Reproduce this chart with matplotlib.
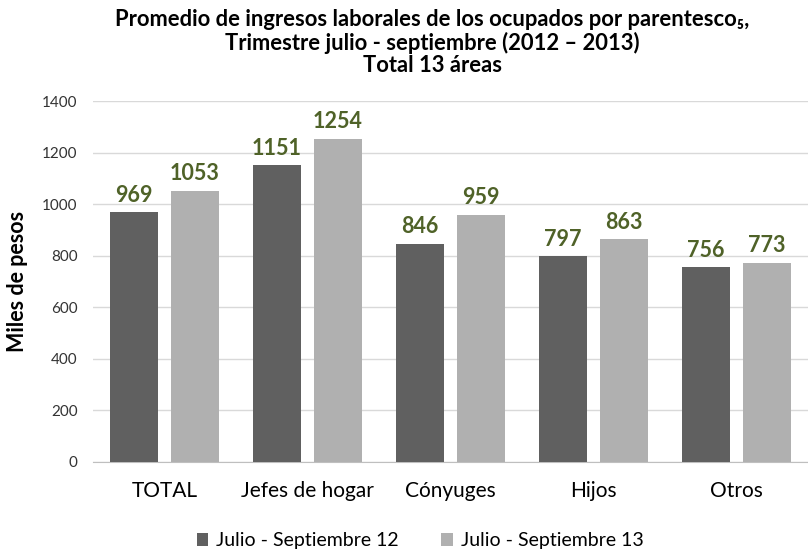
import matplotlib.pyplot as plt
import numpy as np

plt.rcParams['font.family'] = ['Lato', 'DejaVu Sans']

categories = ["TOTAL", "Jefes de hogar", "Cónyuges", "Hijos", "Otros"]
jul_sep_12 = [969, 1151, 846, 797, 756]
jul_sep_13 = [1053, 1254, 959, 863, 773]
series_names = ["Julio - Septiembre 12", "Julio - Septiembre 13"]
yticks = [0, 200, 400, 600, 800, 1000, 1200, 1400]

dark = "#606060"
light = "#b0b0b0"
label_color = "#4f6228"

fig = plt.figure(figsize=(8.08, 5.53), dpi=100)
ax = fig.add_axes([0.115, 0.165, 0.885, 0.652])

x = np.arange(len(categories))
w = 0.336
off = 0.213
b1 = ax.bar(x - off, jul_sep_12, w, color=dark, label=series_names[0], zorder=3)
b2 = ax.bar(x + off, jul_sep_13, w, color=light, label=series_names[1], zorder=3)

for bars in (b1, b2):
    for rect in bars:
        h = rect.get_height()
        ax.text(rect.get_x() + rect.get_width() / 2, h + 25, f"{h:.0f}",
                ha="center", va="bottom", fontsize=15.5, fontweight="bold",
                color=label_color)

ax.set_xlim(-0.5, len(categories) - 0.5)
ax.set_ylim(0, 1400)
ax.set_yticks(yticks)
ax.set_xticks(x)
ax.set_xticklabels(categories, fontsize=15)
ax.tick_params(axis="y", labelsize=11, length=0, pad=11, colors="#333333")
ax.tick_params(axis="x", length=0, pad=14)
ax.yaxis.grid(True, color="#d9d9d9", linewidth=1, zorder=0)
for s in ("top", "right", "left"):
    ax.spines[s].set_visible(False)
ax.spines["bottom"].set_color("#bfbfbf")

ax.set_ylabel("Miles de pesos", fontsize=15.5, fontweight="bold", labelpad=10)

title_lines = ["Promedio de ingresos laborales de los ocupados por parentesco\u2085,",
               "Trimestre julio - septiembre (2012 \u2013 2013)",
               "Total 13 áreas"]
for line, yy in zip(title_lines, [0.965, 0.922, 0.882]):
    fig.text(0.535, yy, line, ha="center", va="center", fontsize=15.8,
             fontweight="bold")

fig.legend(handles=[b1, b2], loc="center", bbox_to_anchor=(0.52, 0.022),
           ncol=2, frameon=False, fontsize=14, handlelength=0.6,
           handleheight=0.6, columnspacing=2.2, handletextpad=0.4)

fig.savefig("out.png", dpi=100)
